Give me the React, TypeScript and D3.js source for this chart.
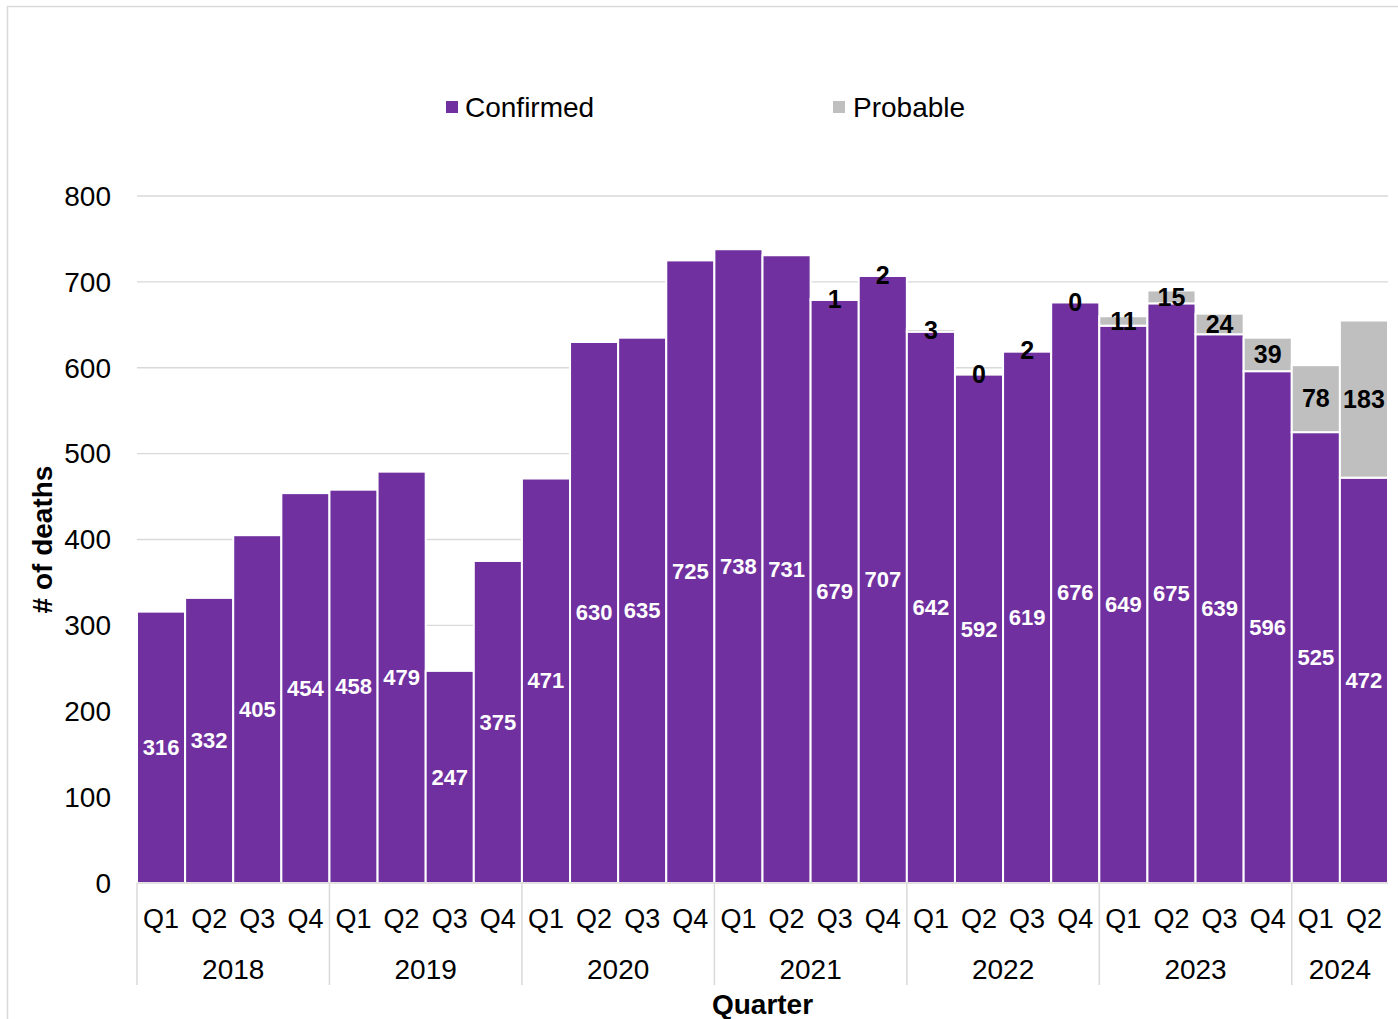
import React from "react";
import * as d3 from "d3";

const years = ["2018", "2019", "2020", "2021", "2022", "2023", "2024"];
const quartersPerYear = [4, 4, 4, 4, 4, 4, 2];
const quarterLabels = ["Q1", "Q2", "Q3", "Q4"];
const confirmed = [316, 332, 405, 454, 458, 479, 247, 375, 471, 630, 635, 725, 738, 731, 679, 707, 642, 592, 619, 676, 649, 675, 639, 596, 525, 472];
const probable: (number | null)[] = [null, null, null, null, null, null, null, null, null, null, null, null, null, null, 1, 2, 3, 0, 2, 0, 11, 15, 24, 39, 78, 183];
const yTicks = [0, 100, 200, 300, 400, 500, 600, 700, 800];

const W = 1398, H = 1019;
const left = 137, right = 1388, top = 196, bottom = 883;
const PURPLE = "#7030A0", GREY = "#BFBFBF", GRID = "#D9D9D9";
const FONT = "'Liberation Sans', Arial, sans-serif";

export default function App() {
  const cats: { year: string; q: string; key: string }[] = [];
  years.forEach((y, i) => {
    for (let k = 0; k < quartersPerYear[i]; k++) cats.push({ year: y, q: quarterLabels[k], key: `${y}-${quarterLabels[k]}` });
  });
  const x = d3.scaleBand<string>().domain(cats.map((c) => c.key)).range([left, right]).padding(0);
  const y = d3.scaleLinear().domain([0, 800]).range([bottom, top]);
  const bw = x.bandwidth();

  const yearStarts: number[] = [];
  let idx = 0;
  years.forEach((_, i) => {
    yearStarts.push(idx);
    idx += quartersPerYear[i];
  });

  return (
    <svg width={W} height={H} style={{ position: "absolute", left: 0, top: 0 }} fontFamily={FONT}>
      <rect x={0} y={0} width={W} height={H} fill="#fff" />
      <rect x={7.5} y={6.5} width={W + 10} height={H + 10} fill="none" stroke={GRID} strokeWidth={1.5} />
      {yTicks.map((t) => (
        <line key={t} x1={left} x2={right} y1={y(t)} y2={y(t)} stroke={GRID} strokeWidth={1.3} />
      ))}
      {yTicks.map((t) => (
        <text key={"l" + t} x={111} y={y(t)} dy="0.35em" textAnchor="end" fontSize={28} fill="#000">
          {t}
        </text>
      ))}
      {cats.map((c, i) => {
        const cv = confirmed[i];
        const pv = probable[i];
        const x0 = x(c.key)!;
        return (
          <g key={c.key}>
            <rect x={x0} y={y(cv)} width={bw} height={y(0) - y(cv)} fill={PURPLE} stroke="#fff" strokeWidth={2} />
            {pv !== null && pv > 0 && (
              <rect x={x0} y={y(cv + pv)} width={bw} height={y(cv) - y(cv + pv)} fill={GREY} stroke="#fff" strokeWidth={2} />
            )}
          </g>
        );
      })}
      <line x1={left} x2={right} y1={bottom} y2={bottom} stroke={GRID} strokeWidth={1.5} />
      {cats.map((c, i) => {
        const cv = confirmed[i];
        const pv = probable[i];
        const cx = x(c.key)! + bw / 2;
        return (
          <g key={"lab" + c.key} fontWeight="bold" textAnchor="middle">
            <text x={cx} y={(y(0) + y(cv)) / 2} dy="0.35em" fill="#fff" fontSize={22}>
              {cv}
            </text>
            {pv !== null && (
              <text x={cx} y={(y(cv) + y(cv + pv)) / 2} dy="0.35em" fill="#000" fontSize={25}>
                {pv}
              </text>
            )}
          </g>
        );
      })}
      {cats.map((c) => (
        <text key={"q" + c.key} x={x(c.key)! + bw / 2} y={928} textAnchor="middle" fontSize={27} fill="#000">
          {c.q}
        </text>
      ))}
      {years.map((yr, i) => {
        const s = yearStarts[i];
        const xs = left + s * bw;
        const xe = xs + quartersPerYear[i] * bw;
        return (
          <g key={"y" + yr}>
            <line x1={xs} x2={xs} y1={bottom} y2={985} stroke={GRID} strokeWidth={1.5} />
            <text x={(xs + xe) / 2} y={979} textAnchor="middle" fontSize={28} fill="#000">
              {yr}
            </text>
          </g>
        );
      })}
      <text x={(left + right) / 2} y={1014} textAnchor="middle" fontSize={28} fontWeight="bold" fill="#000">
        Quarter
      </text>
      <text
        transform={`translate(52, ${(top + bottom) / 2}) rotate(-90)`}
        textAnchor="middle"
        fontSize={28}
        fontWeight="bold"
        fill="#000"
      >
        # of deaths
      </text>
      <rect x={446} y={101} width={12} height={12} fill={PURPLE} />
      <text x={465} y={107} dy="0.35em" fontSize={28} fill="#000">
        Confirmed
      </text>
      <rect x={833} y={101} width={12} height={12} fill={GREY} />
      <text x={853} y={107} dy="0.35em" fontSize={28} fill="#000">
        Probable
      </text>
    </svg>
  );
}
